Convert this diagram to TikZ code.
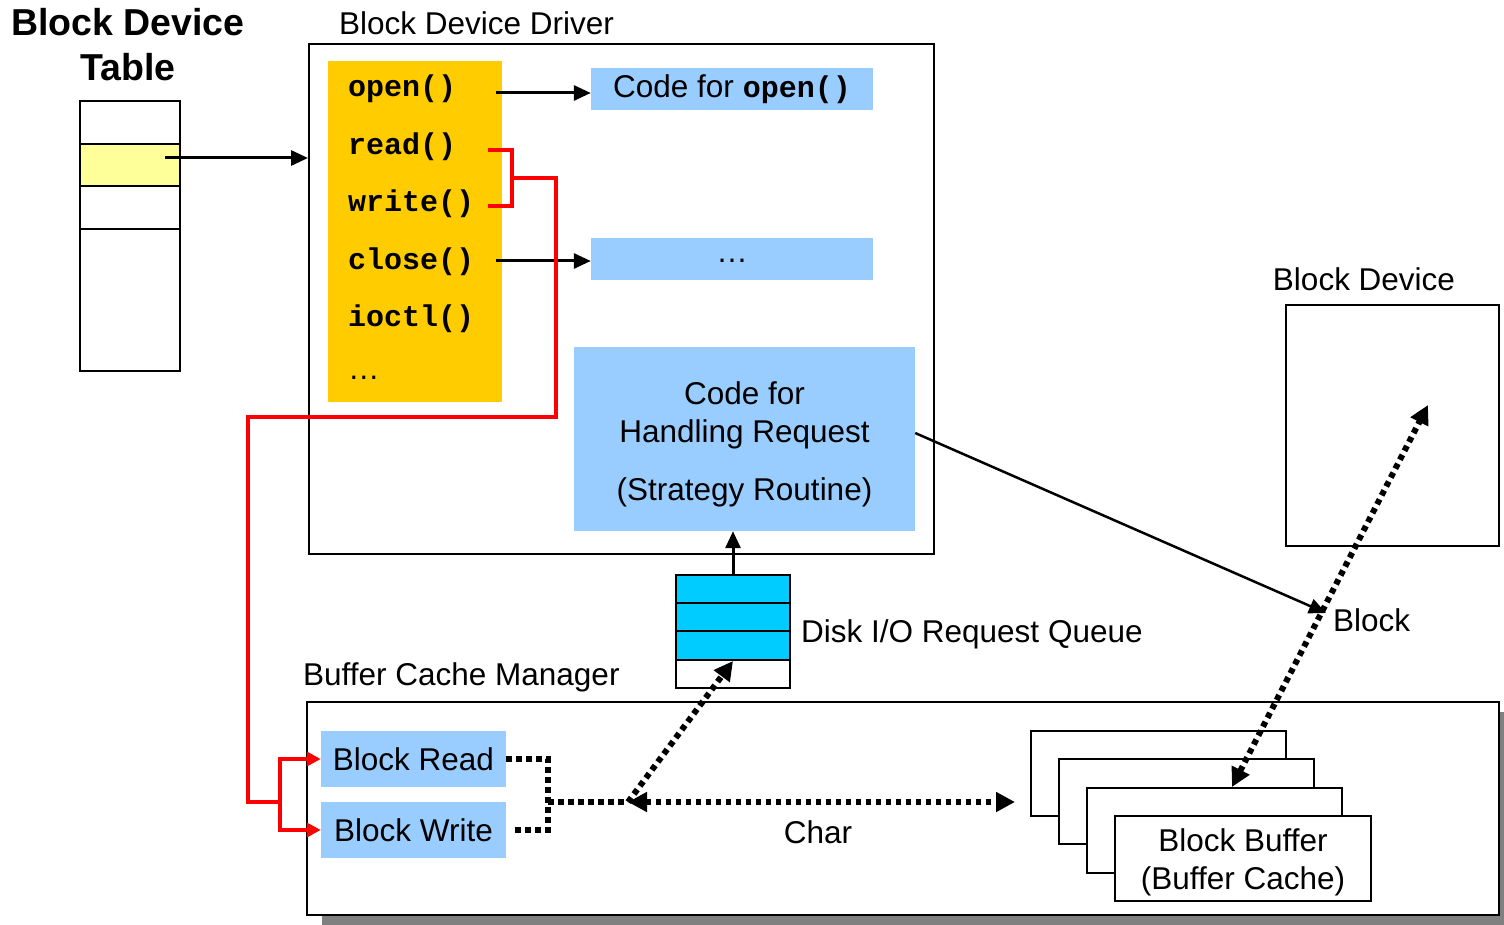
\documentclass[tikz,border=0pt]{standalone}
\usepackage{fontspec}
\setmainfont{Liberation Sans}
\setmonofont{Liberation Mono}
\usetikzlibrary{arrows.meta,calc}

\definecolor{panelyellow}{HTML}{FFCC00}
\definecolor{lightblue}{HTML}{99CCFF}
\definecolor{queuecyan}{HTML}{00CCFF}
\definecolor{paleyellow}{HTML}{FFFF99}
\definecolor{shadowgray}{HTML}{808080}

\newcommand{\txt}{\fontsize{31.5}{38}\selectfont}
\newcommand{\code}[1]{{\fontsize{30}{35}\selectfont\ttfamily\bfseries #1}}

\begin{document}
\begin{tikzpicture}[x=1pt,y=-1pt,
  frame/.style={draw, line width=2pt, inner sep=0pt},
  fillbox/.style={inner sep=0pt, align=center, font=\txt},
  label/.style={inner sep=0pt, font=\txt},
  item/.style={inner sep=0pt, anchor=west},
  arr/.style={line width=3pt, -{Triangle[length=17pt,width=15pt]}},
  redline/.style={draw=red, line width=4pt},
  redarr/.style={redline, -{Triangle[length=14pt,width=14pt]}},
  dots/.style={line width=6pt, dash pattern=on 5.5pt off 4.5pt},
  dotarr/.style={dots, -{Triangle[length=19pt,width=19pt]}},
  dotdbl/.style={dots, {Triangle[length=19pt,width=19pt]}-{Triangle[length=19pt,width=19pt]}},
]
\useasboundingbox (0,0) rectangle (1504,925);

% ---- block device table ----
\node[inner sep=0pt, align=center, font=\fontsize{37.5}{45}\selectfont\bfseries]
  (tabtitle) at (128,45) {Block Device\\Table};
\node[frame, minimum width=100pt, minimum height=270pt] (table) at (130,236) {};
\node[frame, fill=paleyellow, minimum width=100pt, minimum height=42pt] (tabrow) at (130,165) {};
\draw[line width=2pt] (80,186) -- (180,186);
\draw[line width=2pt] (80,229) -- (180,229);
\coordinate (tabptr) at (165,158);

% ---- block device driver ----
\node[label, anchor=west] (drvlabel) at (339,23) {Block Device Driver};
\node[frame, minimum width=625pt, minimum height=510pt] (drv) at (621.5,299) {};
\node[fill=panelyellow, inner sep=0pt, minimum width=174pt, minimum height=341pt] (yel) at (415,231.5) {};
\node[item] (opn) at (348,89) {\code{open()}};
\node[item] (rd)  at (348,147) {\code{read()}};
\node[item] (wr)  at (348,204) {\code{write()}};
\node[item] (cls) at (348,262) {\code{close()}};
\node[item] (ioc) at (348,319) {\code{ioctl()}};
\node[item, font=\txt] (more) at (348,378) {…};

\node[fillbox, fill=lightblue, minimum width=282pt, minimum height=42pt] (copen) at (732,89)
  {Code for \code{open()}};
\node[fillbox, fill=lightblue, minimum width=282pt, minimum height=42pt] (cdots) at (732,259)
  {\raisebox{-6pt}{…}};
\node[fill=lightblue, inner sep=0pt, minimum width=341pt, minimum height=184pt] (strat) at (744.5,439) {};
\node[fillbox] (strattext) at (744.5,444)
  {Code for\\Handling Request\\[20pt](Strategy Routine)};

\draw[arr] ($(yel.east|-copen)+(-6,4)$) -- ($(copen.west)+(0,4)$);
\draw[arr] ($(yel.east|-cdots)+(-6,2)$) -- ($(cdots.west)+(0,2)$);
\draw[arr] (tabptr) -- (drv.west|-tabptr);

% ---- disk I/O request queue ----
\node[frame, fill=queuecyan, minimum width=114pt, minimum height=28pt] (q1) at (733,589) {};
\node[frame, fill=queuecyan, minimum width=114pt, minimum height=28pt] (q2) at (733,617) {};
\node[frame, fill=queuecyan, minimum width=114pt, minimum height=29pt] (q3) at (733,645.5) {};
\node[frame, fill=white, minimum width=114pt, minimum height=28pt] (q4) at (733,674) {};
\node[label, anchor=west] (qlabel) at (801,634) {Disk I/O Request Queue};
\draw[arr] (q1.north) -- (q1.north|-strat.south);

% ---- block device ----
\node[label] (devlabel) at (1364,279) {Block Device};
\node[frame, minimum width=213pt, minimum height=241pt] (dev) at (1392.5,425.5) {};
\coordinate (blk) at (1326,613);
\node[label, anchor=west] (blklabel) at (1333,620) {Block};
\coordinate (devtop) at (1428,405);

% ---- buffer cache manager ----
\node[label, anchor=west] (bcmlabel) at (303,677) {Buffer Cache Manager};
\fill[shadowgray] (322,712) rectangle (1504,925);
\node[frame, fill=white, minimum width=1192pt, minimum height=213pt] (bcm) at (903,808.5) {};

\node[fillbox, fill=lightblue, minimum width=185pt, minimum height=56pt] (brd) at (413.5,759) {Block Read};
\node[fillbox, fill=lightblue, minimum width=185pt, minimum height=56pt] (bwr) at (413.5,830) {Block Write};

\node[frame, fill=white, minimum width=255pt, minimum height=85pt] (b1) at (1158.5,773.5) {};
\node[frame, fill=white, minimum width=255pt, minimum height=85pt] (b2) at (1186.5,801.5) {};
\node[frame, fill=white, minimum width=255pt, minimum height=85pt] (b3) at (1214.5,830.5) {};
\node[frame, fill=white, minimum width=256pt, minimum height=85pt] (b4) at (1243,858.5) {};
\node[fillbox] (b4text) at (1243,862.5) {Block Buffer\\(Buffer Cache)};

\node[label] (charlabel) at (818,832) {Char};
\coordinate (junc) at (628,802);
\coordinate (bus) at (548,802);
\coordinate (bufhit) at (1232,787);

% ---- connectors ----
\draw[line width=2.5pt, -{Triangle[length=17pt,width=15pt]}] (strat.east|-0,433) -- (blk);
\draw[dotdbl] (bufhit) -- (devtop);
\draw[dots] (brd.east) -| (bus) |- ($(bwr.east)+(5,0)$);
\draw[dots] (bus) -- (junc);
\draw[dotarr] (junc) -- (q3.south);
\draw[dotdbl] (junc) -- ($(b1.west|-junc)+(-15,0)$);

% red path from read()/write() to the buffer cache routines
\draw[redline] (488,150) -- (512,150) |- (488,206);
\draw[redline] (512,178) -| (556,417) -| (248,802) -- (280,802);
\draw[redarr] (280,802) |- (brd.west);
\draw[redarr] (280,802) |- (bwr.west);
\end{tikzpicture}
\end{document}
